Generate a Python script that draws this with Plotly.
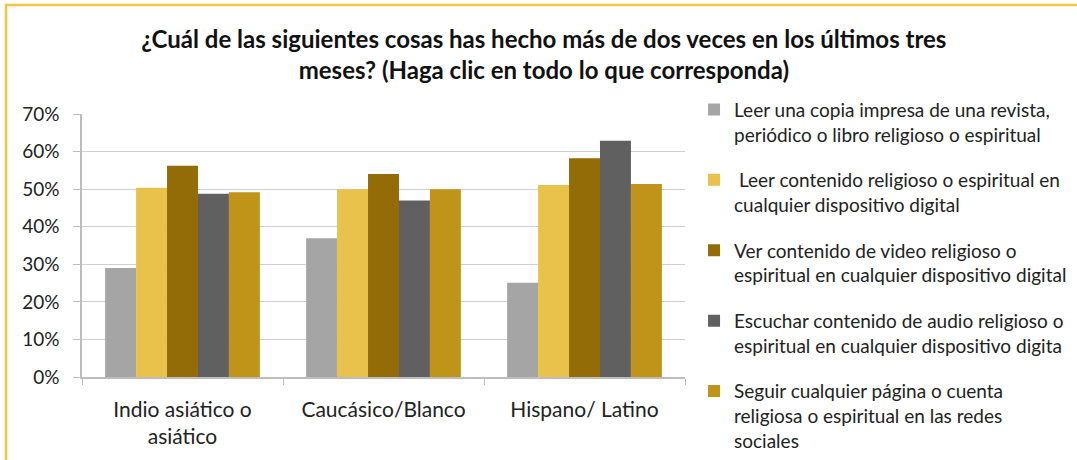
import plotly.graph_objects as go

categories = ["Indio asiático o<br>asiático", "Caucásico/Blanco", "Hispano/ Latino"]
series_names = [
    "Leer una copia impresa de una revista,<br>periódico o libro religioso o espiritual",
    " Leer contenido religioso o espiritual en<br>cualquier dispositivo digital",
    "Ver contenido de video religioso o<br>espiritual en cualquier dispositivo digital",
    "Escuchar contenido de audio religioso o<br>espiritual en cualquier dispositivo digita",
    "Seguir cualquier página o cuenta<br>religiosa o espiritual en las redes<br>sociales",
]
leer_impresa = [0.290, 0.369, 0.251]
leer_digital = [0.504, 0.500, 0.511]
ver_video = [0.562, 0.540, 0.582]
escuchar_audio = [0.488, 0.470, 0.629]
seguir_redes = [0.492, 0.500, 0.514]
colors = ["#A5A5A5", "#E8C24A", "#936B07", "#606060", "#BF9418"]
tick_vals = [0, 0.1, 0.2, 0.3, 0.4, 0.5, 0.6, 0.7]

FONT = "Lato"
fig = go.Figure()
for i, (name, vals) in enumerate(zip(series_names,
                                     [leer_impresa, leer_digital, ver_video, escuchar_audio, seguir_redes])):
    fig.add_trace(go.Bar(x=categories, y=vals, name=name, marker_color=colors[i],
                         marker_line_width=0, legendgroup=f"g{i}"))

fig.update_layout(
    width=1077, height=460,
    margin=dict(l=82, r=392, t=114, b=83, autoexpand=False),
    paper_bgcolor="white", plot_bgcolor="white",
    font=dict(family=FONT, size=19, color="#222222"),
    title=dict(text="<b>¿Cuál de las siguientes cosas has hecho más de dos veces en los últimos tres<br>meses? (Haga clic en todo lo que corresponda)</b>",
               x=0.505, xanchor="center", yref="container", y=1 - 48 / 460, yanchor="middle",
               font=dict(family=FONT, size=24, color="#111111")),
    barmode="group", bargap=0.23, bargroupgap=0,
    showlegend=True,
    legend=dict(x=1.015, y=1.089, xanchor="left", yanchor="top", valign="top",
                font=dict(family=FONT, size=19, color="#222222"),
                tracegroupgap=18, itemwidth=30, bgcolor="rgba(0,0,0,0)",
                maxheight=460),
)
fig.update_yaxes(range=[0, 0.7], tickvals=tick_vals, tickformat=".0%",
                 showgrid=True, gridcolor="#CFCFCF", gridwidth=1.2,
                 showline=True, linecolor="#BDBDBD", linewidth=1.5,
                 ticks="outside", ticklen=7, tickcolor="#BDBDBD", ticklabelstandoff=10,
                 tickfont=dict(family=FONT, size=19, color="#222222"), zeroline=False)
fig.update_xaxes(showline=True, linecolor="#BDBDBD", linewidth=1.5,
                 ticks="outside", ticklen=6, tickcolor="#BDBDBD", tickson="boundaries",
                 ticklabelstandoff=13,
                 tickfont=dict(family=FONT, size=21, color="#222222"))
fig.add_shape(type="rect", xref="paper", yref="paper", x0=-0.126, x1=1.9, y0=-0.5, y1=1.414,
              line=dict(color="#F2C744", width=2.5), fillcolor="rgba(0,0,0,0)", layer="below")
fig.write_html("out.html", config={"displayModeBar": False},
               post_script="document.body.style.margin='0';")
